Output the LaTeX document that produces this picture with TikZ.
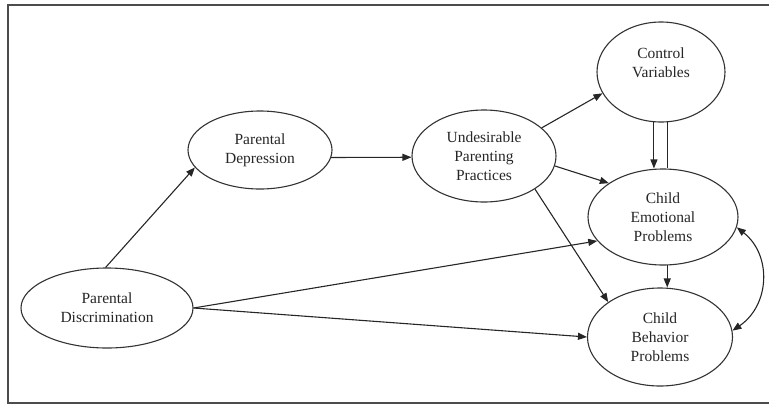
\documentclass[tikz,border=0pt]{standalone}
\usepackage{fontspec}
\setmainfont{Liberation Serif}
\usetikzlibrary{shapes.geometric,arrows.meta}
\begin{document}
\begin{tikzpicture}[x=1pt,y=-1pt,
  var/.style={ellipse,draw=black!80,line width=1.1pt,inner sep=0pt,align=center,
    font=\fontsize{15.5}{19}\selectfont,text=black!85},
  arr/.style={line width=1.1pt,draw=black!85,-{Triangle[length=9pt,width=7pt]}},
  plain/.style={line width=1.1pt,draw=black!85}]
\useasboundingbox (0,0) rectangle (769,405);
\draw[line width=1.6pt,draw=black!70] (769,5) -- (8,5) -- (8,403) -- (769,403);
\node[var,minimum width=172pt,minimum height=80pt] (disc) at (107,308) {Parental\\Discrimination};
\node[var,minimum width=144pt,minimum height=78pt] (pdep) at (260,150) {Parental\\Depression};
\node[var,minimum width=144pt,minimum height=92pt] (upp) at (484,156) {Undesirable\\Parenting\\Practices};
\node[var,minimum width=128pt,minimum height=100pt] (cv) at (661,72) {Control\\Variables\\[0pt]};
\node[var,minimum width=150pt,minimum height=96pt] (cep) at (663,217) {Child\\Emotional\\Problems};
\node[var,minimum width=145pt,minimum height=98pt] (cbp) at (660,337) {Child\\Behavior\\Problems};
\draw[arr] (disc.92) -- (pdep.-165);
\draw[arr] (pdep.-6.5) -- (upp.181.5);
\draw[arr] (upp.26.6) -- (cv.-160);
\draw[arr] (upp.-8.8) -- (cep.148);
\draw[arr] (upp.-33) -- (cbp.146);
\draw[arr] (disc.east) -- (cep.-160.6);
\draw[arr] (disc.east) -- (cbp.west);
\draw[arr] (cv.-98) -- (cv.-98 |- cep.north);
\draw[plain] (cv.-83) -- (cv.-83 |- cep.north);
\draw[arr] (cep.-85) -- (cep.-85 |- cbp.north);
\draw[line width=1.1pt,draw=black!85,{Triangle[length=9pt,width=7pt]}-{Triangle[length=9pt,width=7pt]}]
  (cep.-8) .. controls (772,255) and (770,305) .. (cbp.5);
\end{tikzpicture}
\end{document}
